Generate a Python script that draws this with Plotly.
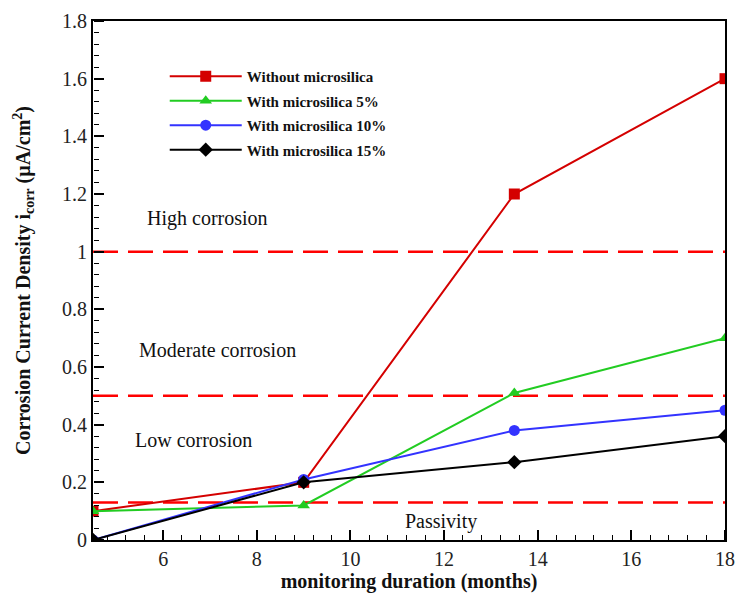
import plotly.graph_objects as go

months = [4.5, 9, 13.5, 18]
without_ms = [0.10, 0.20, 1.20, 1.60]
ms5 = [0.10, 0.12, 0.51, 0.70]
ms10 = [0.00, 0.21, 0.38, 0.45]
ms15 = [0.00, 0.20, 0.27, 0.36]

series_names = ["Without microsilica", "With microsilica 5%", "With microsilica 10%", "With microsilica 15%"]
thresholds = [1.0, 0.5, 0.13]
zone_labels = ["High corrosion", "Moderate corrosion", "Low corrosion", "Passivity"]
zone_x = [6.94, 7.15, 6.64, 11.94]
zone_y = [1.115, 0.66, 0.347, 0.063]

x_range = [4.5, 18]
y_range = [0, 1.8]

colors = ["#d40000", "#22cc22", "#3333ff", "#000000"]
symbols = ["square", "triangle-up", "circle", "diamond"]
serif = "Liberation Serif, Times New Roman, serif"

fig = go.Figure()
for i, (name, vals, c, s) in enumerate(zip(series_names, [without_ms, ms5, ms10, ms15], colors, symbols)):
    fig.add_trace(go.Scatter(x=months, y=vals, mode="lines+markers", name=name,
                             legendgroup=f"g{i}",
                             line=dict(color=c, width=2),
                             marker=dict(symbol=s, size=11, color=c)))

# empty trace so the tick-only overlay axes are instantiated
fig.add_trace(go.Scatter(x=[], y=[], xaxis="x2", yaxis="y2", showlegend=False, hoverinfo="skip"))

for t in thresholds:
    fig.add_shape(type="line", xref="x", yref="y", x0=x_range[0], x1=x_range[1], y0=t, y1=t,
                  line=dict(color="#ff0000", width=2.5, dash="25px,10px"), layer="below")

for lab, xx, yy in zip(zone_labels, zone_x, zone_y):
    fig.add_annotation(x=xx, y=yy, text=lab, showarrow=False,
                       font=dict(family=serif, size=20, color="#111"))

fig.update_layout(
    width=736, height=593,
    margin=dict(l=93, r=11, t=21, b=53, autoexpand=False),
    paper_bgcolor="white", plot_bgcolor="rgba(0,0,0,0)",
    font=dict(family=serif, color="#111"),
    legend=dict(x=0.1135, y=0.925, xanchor="left", yanchor="top",
                font=dict(family=serif, size=15, color="#111", weight="bold"),
                bgcolor="rgba(0,0,0,0)", tracegroupgap=2, traceorder="grouped",
                itemwidth=72),
    showlegend=True,
    # tick-only overlay axes, flipped so that "outside" ticks point into the plot
    xaxis2=dict(overlaying="x", side="top", anchor="free", position=0, range=x_range,
                tickmode="linear", tick0=6, dtick=2, ticks="outside", ticklen=10, tickwidth=2,
                tickcolor="black", showticklabels=False, showline=False, showgrid=False, zeroline=False,
                automargin=False, fixedrange=True,
                minor=dict(dtick=0.4, tick0=0, ticks="outside", ticklen=5, tickcolor="black", tickwidth=1, showgrid=False)),
    yaxis2=dict(overlaying="y", side="right", anchor="free", position=0, range=y_range,
                tickmode="linear", tick0=0, dtick=0.2, ticks="outside", ticklen=10, tickwidth=2,
                tickcolor="black", showticklabels=False, showline=False, showgrid=False, zeroline=False,
                automargin=False, fixedrange=True,
                minor=dict(dtick=0.04, tick0=0, ticks="outside", ticklen=5, tickcolor="black", tickwidth=1, showgrid=False)),
)
fig.layout.xaxis.update(range=x_range, tickmode="linear", tick0=6, dtick=2,
                        ticks="", showline=True, linecolor="black", linewidth=2, mirror=True,
                        showgrid=False, zeroline=False, automargin=False,
                        tickfont=dict(family=serif, size=20, color="#222"),
                        title=dict(text="<b>monitoring duration (months)</b>", font=dict(family=serif, size=20, color="#111"), standoff=8))
fig.layout.yaxis.update(range=y_range, dtick=0.2, tick0=0,
                        ticks="", showline=True, linecolor="black", linewidth=2, mirror=True,
                        showgrid=False, zeroline=False, automargin=False,
                        tickfont=dict(family=serif, size=20, color="#222"),
                        title=dict(text="<b>Corrosion Current Density i<sub>corr</sub> (µA/cm<sup>2</sup>)</b>",
                                   font=dict(family=serif, size=20, color="#111"), standoff=26))

fig.write_html("out.html", config={"displayModeBar": False},
               post_script="document.body.style.margin='0px';document.body.style.overflow='hidden';")
